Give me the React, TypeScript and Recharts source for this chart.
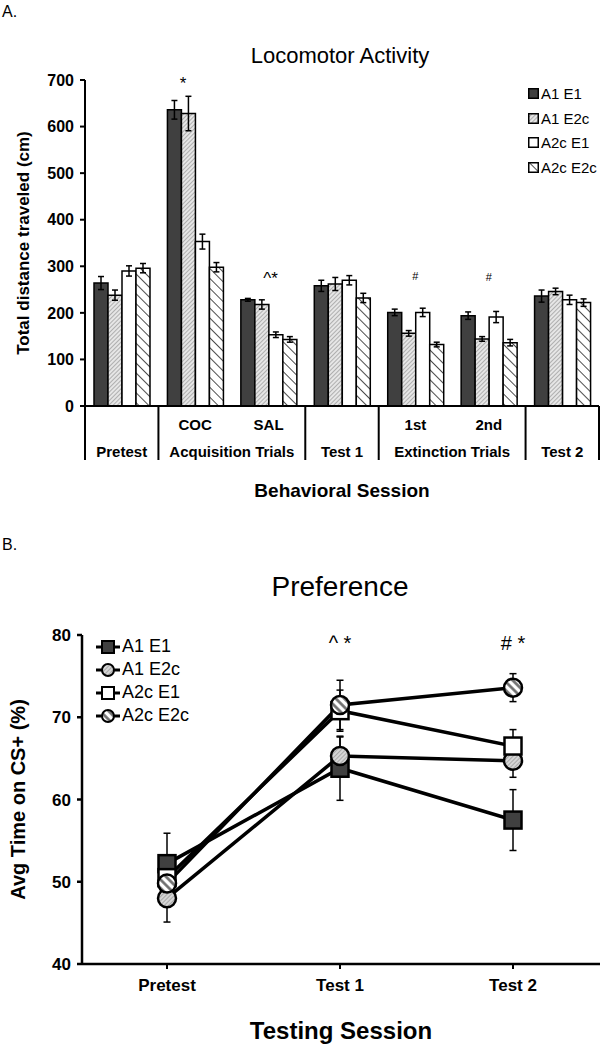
import React from 'react'
import { BarChart, Bar, LineChart, Line, XAxis, YAxis, ErrorBar, Legend, ReferenceDot, Label } from 'recharts'

const FONT = '"Liberation Sans", Arial, sans-serif'

// ---- A. Locomotor activity (cm) ----
const sessions = ['Pretest', 'COC', 'SAL', 'Test 1', '1st', '2nd', 'Test 2']
const subLabels = ['', 'COC', 'SAL', '', '1st', '2nd', '']
const groupNames = ['Pretest', 'Acquisition Trials', 'Test 1', 'Extinction Trials', 'Test 2']
const groupOf = [0, 1, 1, 2, 3, 3, 4]

const a1e1Dist = [264, 636, 228, 258, 201, 194, 236]
const a1e1DistErr = [14, 20, 3, 12, 7, 8, 13]
const a1e2cDist = [238, 628, 218, 262, 156, 144, 246]
const a1e2cDistErr = [11, 37, 10, 14, 6, 5, 7]
const a2ce1Dist = [290, 353, 153, 270, 201, 191, 228]
const a2ce1DistErr = [11, 16, 6, 10, 9, 12, 10]
const a2ce2cDist = [296, 298, 143, 232, 132, 136, 222]
const a2ce2cDistErr = [10, 10, 6, 10, 5, 7, 8]
const distTicks = [0, 100, 200, 300, 400, 500, 600, 700]

// ---- B. Preference (% time on CS+) ----
const testSessions = ['Pretest', 'Test 1', 'Test 2']
const a1e1Pref = [52.2, 63.8, 57.5]
const a1e1PrefErr = [3.7, 3.9, 3.7]
const a1e2cPref = [48.0, 65.3, 64.7]
const a1e2cPrefErr = [2.9, 2.3, 2.0]
const a2ce1Pref = [50.5, 70.8, 66.5]
const a2ce1PrefErr = [2.5, 2.5, 2.0]
const a2ce2cPref = [49.8, 71.5, 73.6]
const a2ce2cPrefErr = [2.4, 3.0, 1.7]
const prefTicks = [40, 50, 60, 70, 80]

const seriesNames = ['A1 E1', 'A1 E2c', 'A2c E1', 'A2c E2c']

const distData = sessions.map((s, i) => ({
  session: s,
  a1e1: a1e1Dist[i], a1e1Err: a1e1DistErr[i],
  a1e2c: a1e2cDist[i], a1e2cErr: a1e2cDistErr[i],
  a2ce1: a2ce1Dist[i], a2ce1Err: a2ce1DistErr[i],
  a2ce2c: a2ce2cDist[i], a2ce2cErr: a2ce2cDistErr[i],
}))

const prefData = testSessions.map((s, i) => ({
  session: s,
  a1e1: a1e1Pref[i], a1e1Err: a1e1PrefErr[i],
  a1e2c: a1e2cPref[i], a1e2cErr: a1e2cPrefErr[i],
  a2ce1: a2ce1Pref[i], a2ce1Err: a2ce1PrefErr[i],
  a2ce2c: a2ce2cPref[i], a2ce2cErr: a2ce2cPrefErr[i],
}))

const barFills = ['#404040', 'url(#hatchFine)', '#ffffff', 'url(#hatchWide)']
const dotFills = ['#404040', 'url(#dotFine)', '#ffffff', 'url(#dotStripe)']
const dotShapes = ['square', 'circle', 'square', 'circle']

const Patterns = () => (
  <defs>
    <pattern id="hatchFine" patternUnits="userSpaceOnUse" width="3" height="3" patternTransform="rotate(45)">
      <rect width="3" height="3" fill="#e6e6e6" />
      <line x1="0" y1="0" x2="0" y2="3" stroke="#8a8a8a" strokeWidth="1.2" />
    </pattern>
    <pattern id="hatchWide" patternUnits="userSpaceOnUse" width="7" height="7" patternTransform="rotate(-45)">
      <rect width="7" height="7" fill="#fff" />
      <line x1="0" y1="0" x2="0" y2="7" stroke="#000" strokeWidth="1.4" />
    </pattern>
    <pattern id="dotFine" patternUnits="userSpaceOnUse" width="3" height="3" patternTransform="rotate(45)">
      <rect width="3" height="3" fill="#d6d6d6" />
      <line x1="0" y1="0" x2="0" y2="3" stroke="#8a8a8a" strokeWidth="1.2" />
    </pattern>
    <pattern id="dotStripe" patternUnits="userSpaceOnUse" width="6" height="6" patternTransform="rotate(-45)">
      <rect width="6" height="6" fill="#fff" />
      <line x1="1.5" y1="0" x2="1.5" y2="6" stroke="#6a6a6a" strokeWidth="2.6" />
    </pattern>
  </defs>
)

function SessionTick(props: any) {
  const { x, y, payload, index } = props
  const half = payload && payload.offset ? payload.offset : 36.7
  const g = groupOf[index]
  const first = index === 0 || groupOf[index - 1] !== g
  const isLast = index === sessions.length - 1
  const span = groupOf.filter((v) => v === g).length
  const txt = { fontFamily: FONT, fontWeight: 700, fontSize: 15, fill: '#000', textAnchor: 'middle' as const }
  return (
    <g>
      {first && <line x1={x - half} x2={x - half} y1={y} y2={y + 54} stroke="#000" strokeWidth={2} />}
      {isLast && <line x1={x + half} x2={x + half} y1={y} y2={y + 54} stroke="#000" strokeWidth={2} />}
      {subLabels[index] && <text x={x} y={y + 24} {...txt}>{subLabels[index]}</text>}
      {first && <text x={x + (span - 1) * half} y={y + 51} {...txt}>{groupNames[g]}</text>}
    </g>
  )
}

const BarLegend = () => (
  <div style={{ fontFamily: FONT, fontSize: 15, color: '#000' }}>
    {seriesNames.map((n, i) => (
      <div key={n} style={{ display: 'flex', alignItems: 'center', height: 24.7 }}>
        <svg width={11} height={11} style={{ marginRight: 2 }}>
          <Patterns />
          <rect x={0.75} y={0.75} width={9.5} height={9.5} fill={barFills[i]} stroke="#000" strokeWidth={1.5} />
        </svg>
        <span>{n}</span>
      </div>
    ))}
  </div>
)

const LineLegend = () => (
  <div style={{ fontFamily: FONT, fontSize: 18, color: '#000' }}>
    {seriesNames.map((n, i) => (
      <div key={n} style={{ display: 'flex', alignItems: 'center', height: 23 }}>
        <svg width={26} height={16} style={{ marginRight: 1 }}>
          <Patterns />
          <line x1={1} x2={25} y1={8} y2={8} stroke="#000" strokeWidth={3} />
          {dotShapes[i] === 'square'
            ? <rect x={7} y={2} width={12} height={12} fill={dotFills[i]} stroke="#000" strokeWidth={2} />
            : <circle cx={13} cy={8} r={6} fill={dotFills[i]} stroke="#000" strokeWidth={2} />}
        </svg>
        <span>{n}</span>
      </div>
    ))}
  </div>
)

const makeDot = (shape: string, fill: string) => (p: any) =>
  shape === 'square'
    ? <rect key={`d${p.index}`} x={p.cx - 8.5} y={p.cy - 8.5} width={17} height={17} fill={fill} stroke="#000" strokeWidth={2.5} />
    : <circle key={`d${p.index}`} cx={p.cx} cy={p.cy} r={9} fill={fill} stroke="#000" strokeWidth={2.5} />

const keys = ['a1e1', 'a1e2c', 'a2ce1', 'a2ce2c']

export default function App() {
  const axisTick = { fontFamily: FONT, fontWeight: 700, fill: '#000' }
  return (
    <div style={{ position: 'absolute', left: 0, top: 0, width: 602, height: 1050, background: '#fff', fontFamily: FONT }}>
      <div style={{ position: 'absolute', left: 2, top: 3, fontSize: 16 }}>A.</div>
      <div style={{ position: 'absolute', left: 140, width: 400, top: 44, fontSize: 22, lineHeight: '24px', textAlign: 'center' }}>
        Locomotor Activity
      </div>
      <div style={{ position: 'absolute', left: 0, top: 0 }}>
        <BarChart width={602} height={506} data={distData} margin={{ top: 80, right: 3, left: 0, bottom: 0 }}
          barCategoryGap={9} barGap={0}>
          <Patterns />
          <XAxis dataKey="session" height={100} interval={0} tickLine={false} tickSize={0} tickMargin={0}
            axisLine={{ stroke: '#000', strokeWidth: 2 }} tick={<SessionTick />}>
            <Label value="Behavioral Session" position="center" dy={34}
              style={{ fontFamily: FONT, fontWeight: 700, fontSize: 19, fill: '#000' }} />
          </XAxis>
          <YAxis domain={[0, 700]} ticks={distTicks} width={85} tickSize={5} tickMargin={6}
            axisLine={{ stroke: '#000', strokeWidth: 2 }} tickLine={{ stroke: '#000', strokeWidth: 2 }}
            tick={{ ...axisTick, fontSize: 16 }}>
            <Label value="Total distance traveled (cm)" angle={-90} position="center" dx={-20}
              style={{ fontFamily: FONT, fontWeight: 700, fontSize: 17, fill: '#000' }} />
          </YAxis>
          {keys.map((k, i) => (
            <Bar key={k} dataKey={k} name={seriesNames[i]} fill={barFills[i]} stroke="#000" strokeWidth={1.5}
              isAnimationActive={false}>
              <ErrorBar dataKey={`${k}Err`} width={3} stroke="#000" strokeWidth={1.5} />
            </Bar>
          ))}
          <ReferenceDot x="COC" y={693} r={0} stroke="none" fill="none"
            label={{ value: '*', position: 'center', dx: -12, fill: '#000', fontSize: 17, fontFamily: FONT }} />
          <ReferenceDot x="SAL" y={274} r={0} stroke="none" fill="none"
            label={{ value: '^*', position: 'center', dx: 2, fill: '#000', fontSize: 17, fontFamily: FONT }} />
          <ReferenceDot x="1st" y={278} r={0} stroke="none" fill="none"
            label={{ value: '#', position: 'center', fill: '#000', fontSize: 11, fontFamily: FONT }} />
          <ReferenceDot x="2nd" y={276} r={0} stroke="none" fill="none"
            label={{ value: '#', position: 'center', fill: '#000', fontSize: 11, fontFamily: FONT }} />
          <Legend layout="vertical" align="center" verticalAlign="middle" content={<BarLegend />}
            wrapperStyle={{ left: 528, top: 81, width: 80 }} />
        </BarChart>
      </div>

      <div style={{ position: 'absolute', left: 2, top: 536, fontSize: 16 }}>B.</div>
      <div style={{ position: 'absolute', left: 140, width: 400, top: 572, fontSize: 28, lineHeight: '30px', textAlign: 'center' }}>
        Preference
      </div>
      <div style={{ position: 'absolute', left: 0, top: 560 }}>
        <LineChart width={602} height={490} data={prefData} margin={{ top: 75, right: 2, left: 0, bottom: 0 }}>
          <Patterns />
          <XAxis dataKey="session" height={86} interval={0} padding={{ left: 85, right: 87 }} tickSize={5} tickMargin={10}
            axisLine={{ stroke: '#000', strokeWidth: 2.5 }} tickLine={{ stroke: '#000', strokeWidth: 2 }}
            tick={{ ...axisTick, fontSize: 17 }}>
            <Label value="Testing Session" position="center" dy={23}
              style={{ fontFamily: FONT, fontWeight: 700, fontSize: 24, fill: '#000' }} />
          </XAxis>
          <YAxis domain={[40, 80]} ticks={prefTicks} width={82} tickSize={5} tickMargin={6}
            axisLine={{ stroke: '#000', strokeWidth: 2.5 }} tickLine={{ stroke: '#000', strokeWidth: 2.5 }}
            tick={{ ...axisTick, fontSize: 17 }}>
            <Label value="Avg Time on CS+ (%)" angle={-90} position="center" dx={-23}
              style={{ fontFamily: FONT, fontWeight: 700, fontSize: 20, fill: '#000' }} />
          </YAxis>
          {keys.map((k, i) => (
            <Line key={k} dataKey={k} name={seriesNames[i]} stroke="#000" strokeWidth={3.5} type="linear"
              dot={makeDot(dotShapes[i], dotFills[i])} activeDot={false} isAnimationActive={false}>
              <ErrorBar dataKey={`${k}Err`} width={3.5} stroke="#000" strokeWidth={1.5} />
            </Line>
          ))}
          <ReferenceDot x="Test 1" y={79} r={0} stroke="none" fill="none"
            label={{ value: '^ *', position: 'center', fill: '#000', fontSize: 20, fontFamily: FONT }} />
          <ReferenceDot x="Test 2" y={79} r={0} stroke="none" fill="none"
            label={{ value: '#   *', position: 'center', fill: '#000', fontSize: 20, fontFamily: FONT }} />
          <Legend layout="vertical" align="center" verticalAlign="middle" content={<LineLegend />}
            wrapperStyle={{ left: 95, top: 75, width: 120 }} />
        </LineChart>
      </div>
    </div>
  )
}
